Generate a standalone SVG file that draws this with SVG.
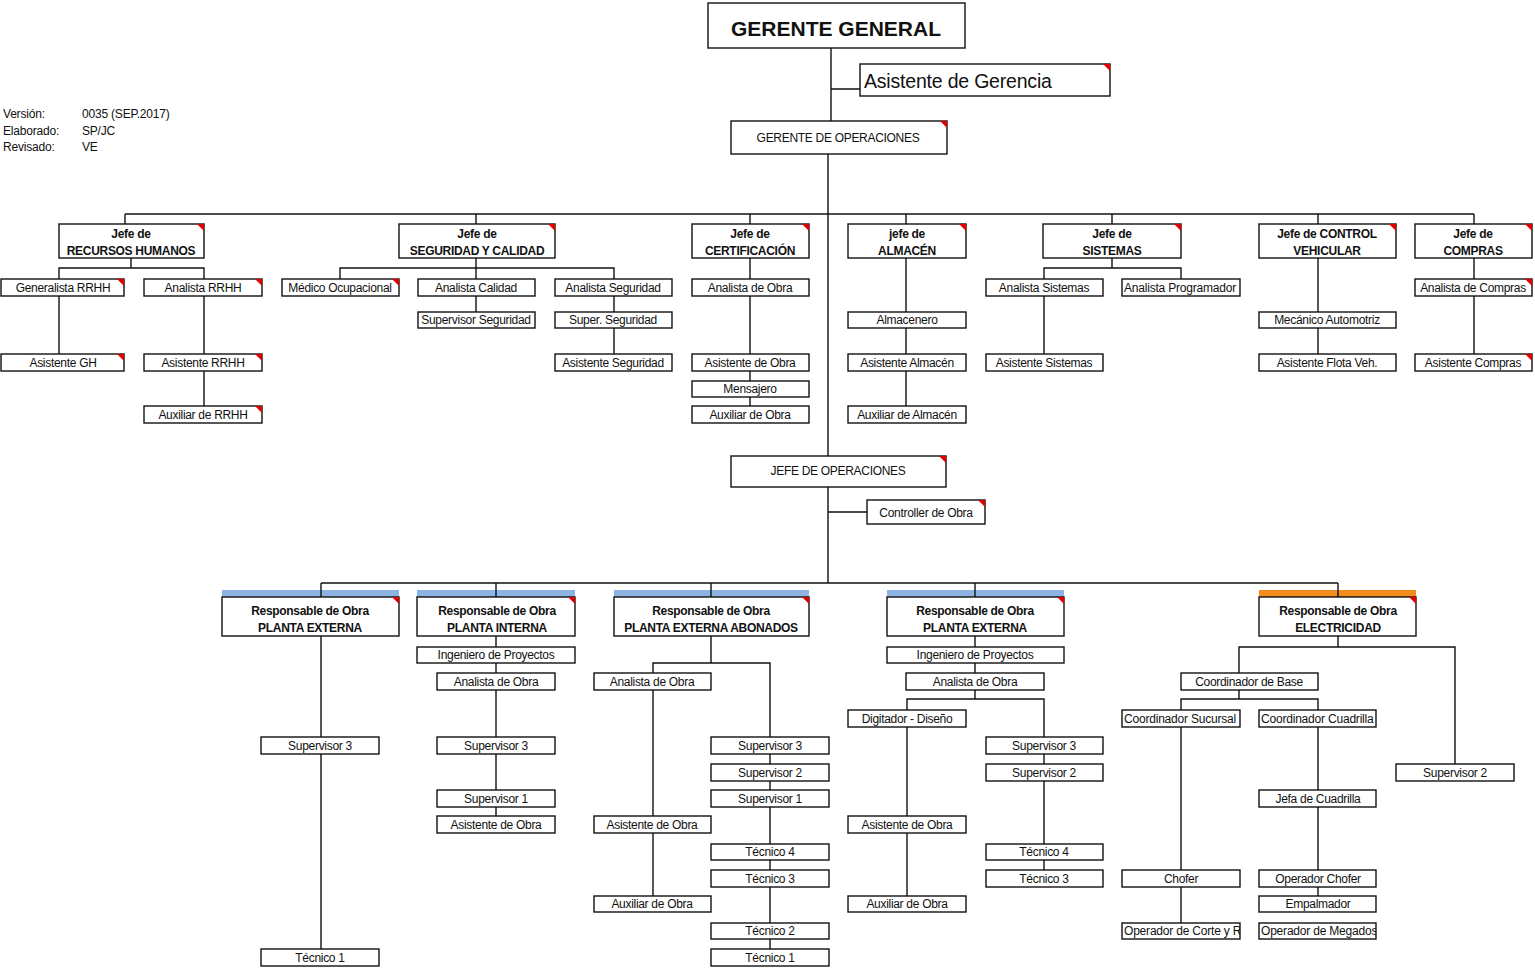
<svg xmlns="http://www.w3.org/2000/svg" width="1535" height="968" viewBox="0 0 1535 968">
<style>
.bx{fill:#fff;stroke:#111;stroke-width:1.4}
.rc{fill:#e00000}
.t{font-family:"Liberation Sans",Arial,sans-serif;font-size:12px;text-anchor:middle;fill:#111;letter-spacing:-0.3px}
.tl{font-family:"Liberation Sans",Arial,sans-serif;font-size:12px;text-anchor:start;fill:#111;letter-spacing:-0.2px}
.b{font-weight:bold}
.hd{font-family:"Liberation Sans",Arial,sans-serif;font-size:12px;fill:#111;letter-spacing:-0.2px}
.cn{fill:none;stroke:#111;stroke-width:1.4}
.blue{fill:#8db4e2}
.orange{fill:#f28c1c}
</style>
<defs>
<clipPath id="cpProg"><rect x="1122" y="279" width="118" height="17"/></clipPath>
<clipPath id="cpSuc"><rect x="1122" y="710" width="118" height="17"/></clipPath>
<clipPath id="cpCua"><rect x="1259" y="710" width="117" height="17"/></clipPath>
<clipPath id="cpCorte"><rect x="1122" y="923" width="118" height="16"/></clipPath>
<clipPath id="cpMeg"><rect x="1259" y="923" width="117" height="16"/></clipPath>
</defs>

<g id="header">
<text class="hd" x="3" y="118">Versión:</text>
<text class="hd" x="82" y="118">0035 (SEP.2017)</text>
<text class="hd" x="3" y="135">Elaborado:</text>
<text class="hd" x="82" y="135">SP/JC</text>
<text class="hd" x="3" y="151">Revisado:</text>
<text class="hd" x="82" y="151">VE</text>
</g>

<g id="nodes">
<g id="gerente-general"><rect class="bx" x="708" y="3" width="257" height="45" stroke-width="1.6"/><text class="t b" x="836" y="36" style="font-size:21px;letter-spacing:0">GERENTE GENERAL</text></g>
<g id="asistente-gerencia"><rect class="bx" x="860" y="64" width="250" height="32"/><polygon class="rc" points="1103,64 1110,64 1110,71"/><text class="tl" x="864" y="88" style="font-size:19.5px;letter-spacing:-0.2px">Asistente de Gerencia</text></g>
<g id="gerente-operaciones"><rect class="bx" x="731" y="121" width="216" height="33"/><polygon class="rc" points="940,121 947,121 947,128"/><text class="t" x="838" y="142">GERENTE DE OPERACIONES</text></g>

<g id="jefe-rrhh"><rect class="bx" x="59" y="224" width="145" height="34"/><polygon class="rc" points="197,224 204,224 204,231"/><text class="t b" x="131" y="238">Jefe de</text><text class="t b" x="131" y="255">RECURSOS HUMANOS</text></g>
<g id="jefe-syc"><rect class="bx" x="399" y="224" width="156" height="34"/><polygon class="rc" points="548,224 555,224 555,231"/><text class="t b" x="477" y="238">Jefe de</text><text class="t b" x="477" y="255">SEGURIDAD Y CALIDAD</text></g>
<g id="jefe-cert"><rect class="bx" x="692" y="224" width="117" height="34"/><polygon class="rc" points="802,224 809,224 809,231"/><text class="t b" x="750" y="238">Jefe de</text><text class="t b" x="750" y="255">CERTIFICACIÓN</text></g>
<g id="jefe-alm"><rect class="bx" x="848" y="224" width="118" height="34"/><polygon class="rc" points="959,224 966,224 966,231"/><text class="t b" x="907" y="238">jefe de</text><text class="t b" x="907" y="255">ALMACÉN</text></g>
<g id="jefe-sis"><rect class="bx" x="1043" y="224" width="138" height="34"/><polygon class="rc" points="1174,224 1181,224 1181,231"/><text class="t b" x="1112" y="238">Jefe de</text><text class="t b" x="1112" y="255">SISTEMAS</text></g>
<g id="jefe-cv"><rect class="bx" x="1259" y="224" width="137" height="34"/><polygon class="rc" points="1389,224 1396,224 1396,231"/><text class="t b" x="1327" y="238">Jefe de CONTROL</text><text class="t b" x="1327" y="255">VEHICULAR</text></g>
<g id="jefe-com"><rect class="bx" x="1415" y="224" width="117" height="34"/><polygon class="rc" points="1525,224 1532,224 1532,231"/><text class="t b" x="1473" y="238">Jefe de</text><text class="t b" x="1473" y="255">COMPRAS</text></g>

<g id="generalista-rrhh"><rect class="bx" x="1" y="279" width="123" height="17"/><polygon class="rc" points="117,279 124,279 124,286"/><text class="t" x="63" y="292">Generalista RRHH</text></g>
<g id="analista-rrhh"><rect class="bx" x="144" y="279" width="118" height="17"/><polygon class="rc" points="255,279 262,279 262,286"/><text class="t" x="203" y="292">Analista RRHH</text></g>
<g id="asistente-gh"><rect class="bx" x="1" y="354" width="123" height="17"/><polygon class="rc" points="117,354 124,354 124,361"/><text class="t" x="63" y="367">Asistente GH</text></g>
<g id="asistente-rrhh"><rect class="bx" x="144" y="354" width="118" height="17"/><polygon class="rc" points="255,354 262,354 262,361"/><text class="t" x="203" y="367">Asistente RRHH</text></g>
<g id="auxiliar-rrhh"><rect class="bx" x="144" y="406" width="118" height="17"/><polygon class="rc" points="255,406 262,406 262,413"/><text class="t" x="203" y="419">Auxiliar de RRHH</text></g>

<g id="medico-ocupacional"><rect class="bx" x="282" y="279" width="117" height="17"/><polygon class="rc" points="392,279 399,279 399,286"/><text class="t" x="340" y="292">Médico Ocupacional</text></g>
<g id="analista-calidad"><rect class="bx" x="418" y="279" width="117" height="17"/><text class="t" x="476" y="292">Analista Calidad</text></g>
<g id="supervisor-seguridad"><rect class="bx" x="418" y="312" width="117" height="16"/><text class="t" x="476" y="324">Supervisor Seguridad</text></g>
<g id="analista-seguridad"><rect class="bx" x="555" y="279" width="117" height="17"/><text class="t" x="613" y="292">Analista Seguridad</text></g>
<g id="super-seguridad"><rect class="bx" x="555" y="312" width="117" height="16"/><text class="t" x="613" y="324">Super. Seguridad</text></g>
<g id="asistente-seguridad"><rect class="bx" x="555" y="354" width="117" height="17"/><text class="t" x="613" y="367">Asistente Seguridad</text></g>

<g id="cert-analista-obra"><rect class="bx" x="692" y="279" width="117" height="17"/><text class="t" x="750" y="292">Analista de Obra</text></g>
<g id="cert-asistente-obra"><rect class="bx" x="692" y="354" width="117" height="17"/><text class="t" x="750" y="367">Asistente de Obra</text></g>
<g id="mensajero"><rect class="bx" x="692" y="381" width="117" height="16"/><text class="t" x="750" y="393">Mensajero</text></g>
<g id="cert-auxiliar-obra"><rect class="bx" x="692" y="406" width="117" height="17"/><text class="t" x="750" y="419">Auxiliar de Obra</text></g>

<g id="almacenero"><rect class="bx" x="848" y="312" width="118" height="16"/><text class="t" x="907" y="324">Almacenero</text></g>
<g id="asistente-almacen"><rect class="bx" x="848" y="354" width="118" height="17"/><text class="t" x="907" y="367">Asistente Almacén</text></g>
<g id="auxiliar-almacen"><rect class="bx" x="848" y="406" width="118" height="17"/><text class="t" x="907" y="419">Auxiliar de Almacén</text></g>

<g id="analista-sistemas"><rect class="bx" x="986" y="279" width="117" height="17"/><text class="t" x="1044" y="292">Analista Sistemas</text></g>
<g id="analista-programador"><rect class="bx" x="1122" y="279" width="118" height="17"/><text class="tl" x="1124" y="292" clip-path="url(#cpProg)">Analista Programador</text></g>
<g id="asistente-sistemas"><rect class="bx" x="986" y="354" width="117" height="17"/><text class="t" x="1044" y="367">Asistente Sistemas</text></g>

<g id="mecanico-automotriz"><rect class="bx" x="1259" y="312" width="137" height="16"/><text class="t" x="1327" y="324">Mecánico Automotriz</text></g>
<g id="asistente-flota"><rect class="bx" x="1259" y="354" width="137" height="17"/><text class="t" x="1327" y="367">Asistente Flota Veh.</text></g>

<g id="analista-compras"><rect class="bx" x="1415" y="279" width="117" height="17"/><polygon class="rc" points="1525,279 1532,279 1532,286"/><text class="t" x="1473" y="292">Analista de Compras</text></g>
<g id="asistente-compras"><rect class="bx" x="1415" y="354" width="117" height="17"/><polygon class="rc" points="1525,354 1532,354 1532,361"/><text class="t" x="1473" y="367">Asistente Compras</text></g>

<g id="jefe-operaciones"><rect class="bx" x="731" y="456" width="215" height="31"/><polygon class="rc" points="939,456 946,456 946,463"/><text class="t" x="838" y="475">JEFE DE OPERACIONES</text></g>
<g id="controller-obra"><rect class="bx" x="867" y="500" width="118" height="24"/><polygon class="rc" points="978,500 985,500 985,507"/><text class="t" x="926" y="517">Controller de Obra</text></g>

<g id="resp-pe1"><rect class="blue" x="222" y="590" width="177" height="7"/><rect class="bx" x="222" y="597" width="177" height="39"/><polygon class="rc" points="392,597 399,597 399,604"/><text class="t b" x="310" y="615">Responsable de Obra</text><text class="t b" x="310" y="632">PLANTA EXTERNA</text></g>
<g id="resp-pi"><rect class="blue" x="417" y="590" width="158" height="7"/><rect class="bx" x="417" y="597" width="158" height="39"/><polygon class="rc" points="568,597 575,597 575,604"/><text class="t b" x="497" y="615">Responsable de Obra</text><text class="t b" x="497" y="632">PLANTA INTERNA</text></g>
<g id="resp-pea"><rect class="blue" x="614" y="590" width="195" height="7"/><rect class="bx" x="614" y="597" width="195" height="39"/><polygon class="rc" points="802,597 809,597 809,604"/><text class="t b" x="711" y="615">Responsable de Obra</text><text class="t b" x="711" y="632">PLANTA EXTERNA ABONADOS</text></g>
<g id="resp-pe2"><rect class="blue" x="887" y="590" width="177" height="7"/><rect class="bx" x="887" y="597" width="177" height="39"/><polygon class="rc" points="1057,597 1064,597 1064,604"/><text class="t b" x="975" y="615">Responsable de Obra</text><text class="t b" x="975" y="632">PLANTA EXTERNA</text></g>
<g id="resp-elec"><rect class="orange" x="1259" y="590" width="157" height="7"/><rect class="bx" x="1259" y="597" width="157" height="39"/><polygon class="rc" points="1409,597 1416,597 1416,604"/><text class="t b" x="1338" y="615">Responsable de Obra</text><text class="t b" x="1338" y="632">ELECTRICIDAD</text></g>

<g id="pe1-supervisor3"><rect class="bx" x="261" y="737" width="118" height="17"/><text class="t" x="320" y="750">Supervisor 3</text></g>
<g id="pe1-tecnico1"><rect class="bx" x="261" y="949" width="118" height="17"/><text class="t" x="320" y="962">Técnico 1</text></g>

<g id="pi-ingeniero"><rect class="bx" x="417" y="647" width="158" height="16"/><text class="t" x="496" y="659">Ingeniero de Proyectos</text></g>
<g id="pi-analista-obra"><rect class="bx" x="437" y="673" width="118" height="17"/><text class="t" x="496" y="686">Analista de Obra</text></g>
<g id="pi-supervisor3"><rect class="bx" x="437" y="737" width="118" height="17"/><text class="t" x="496" y="750">Supervisor 3</text></g>
<g id="pi-supervisor1"><rect class="bx" x="437" y="790" width="118" height="17"/><text class="t" x="496" y="803">Supervisor 1</text></g>
<g id="pi-asistente-obra"><rect class="bx" x="437" y="816" width="118" height="17"/><text class="t" x="496" y="829">Asistente de Obra</text></g>

<g id="pea-analista-obra"><rect class="bx" x="594" y="673" width="117" height="17"/><text class="t" x="652" y="686">Analista de Obra</text></g>
<g id="pea-asistente-obra"><rect class="bx" x="594" y="816" width="117" height="17"/><text class="t" x="652" y="829">Asistente de Obra</text></g>
<g id="pea-auxiliar-obra"><rect class="bx" x="594" y="896" width="117" height="16"/><text class="t" x="652" y="908">Auxiliar de Obra</text></g>
<g id="pea-supervisor3"><rect class="bx" x="711" y="737" width="118" height="17"/><text class="t" x="770" y="750">Supervisor 3</text></g>
<g id="pea-supervisor2"><rect class="bx" x="711" y="764" width="118" height="17"/><text class="t" x="770" y="777">Supervisor 2</text></g>
<g id="pea-supervisor1"><rect class="bx" x="711" y="790" width="118" height="17"/><text class="t" x="770" y="803">Supervisor 1</text></g>
<g id="pea-tecnico4"><rect class="bx" x="711" y="844" width="118" height="16"/><text class="t" x="770" y="856">Técnico 4</text></g>
<g id="pea-tecnico3"><rect class="bx" x="711" y="870" width="118" height="17"/><text class="t" x="770" y="883">Técnico 3</text></g>
<g id="pea-tecnico2"><rect class="bx" x="711" y="923" width="118" height="16"/><text class="t" x="770" y="935">Técnico 2</text></g>
<g id="pea-tecnico1"><rect class="bx" x="711" y="949" width="118" height="17"/><text class="t" x="770" y="962">Técnico 1</text></g>

<g id="pe2-ingeniero"><rect class="bx" x="887" y="647" width="177" height="16"/><text class="t" x="975" y="659">Ingeniero de Proyectos</text></g>
<g id="pe2-analista-obra"><rect class="bx" x="906" y="673" width="138" height="17"/><text class="t" x="975" y="686">Analista de Obra</text></g>
<g id="pe2-digitador"><rect class="bx" x="848" y="710" width="118" height="17"/><text class="t" x="907" y="723">Digitador - Diseño</text></g>
<g id="pe2-asistente-obra"><rect class="bx" x="848" y="816" width="118" height="17"/><text class="t" x="907" y="829">Asistente de Obra</text></g>
<g id="pe2-auxiliar-obra"><rect class="bx" x="848" y="896" width="118" height="16"/><text class="t" x="907" y="908">Auxiliar de Obra</text></g>
<g id="pe2-supervisor3"><rect class="bx" x="986" y="737" width="117" height="17"/><text class="t" x="1044" y="750">Supervisor 3</text></g>
<g id="pe2-supervisor2"><rect class="bx" x="986" y="764" width="117" height="17"/><text class="t" x="1044" y="777">Supervisor 2</text></g>
<g id="pe2-tecnico4"><rect class="bx" x="986" y="844" width="117" height="16"/><text class="t" x="1044" y="856">Técnico 4</text></g>
<g id="pe2-tecnico3"><rect class="bx" x="986" y="870" width="117" height="17"/><text class="t" x="1044" y="883">Técnico 3</text></g>

<g id="el-coord-base"><rect class="bx" x="1181" y="673" width="137" height="17"/><text class="t" x="1249" y="686">Coordinador de Base</text></g>
<g id="el-coord-sucursal"><rect class="bx" x="1122" y="710" width="118" height="17"/><text class="tl" x="1124" y="723" clip-path="url(#cpSuc)">Coordinador Sucursal</text></g>
<g id="el-coord-cuadrilla"><rect class="bx" x="1259" y="710" width="117" height="17"/><text class="tl" x="1261" y="723" clip-path="url(#cpCua)">Coordinador Cuadrilla</text></g>
<g id="el-supervisor2"><rect class="bx" x="1396" y="764" width="118" height="17"/><text class="t" x="1455" y="777">Supervisor 2</text></g>
<g id="el-jefa-cuadrilla"><rect class="bx" x="1259" y="790" width="117" height="17"/><text class="t" x="1318" y="803">Jefa de Cuadrilla</text></g>
<g id="el-chofer"><rect class="bx" x="1122" y="870" width="118" height="17"/><text class="t" x="1181" y="883">Chofer</text></g>
<g id="el-operador-corte"><rect class="bx" x="1122" y="923" width="118" height="16"/><text class="tl" x="1124" y="935" clip-path="url(#cpCorte)">Operador de Corte y R</text></g>
<g id="el-operador-chofer"><rect class="bx" x="1259" y="870" width="117" height="17"/><text class="t" x="1318" y="883">Operador Chofer</text></g>
<g id="el-empalmador"><rect class="bx" x="1259" y="896" width="117" height="16"/><text class="t" x="1318" y="908">Empalmador</text></g>
<g id="el-operador-megados"><rect class="bx" x="1259" y="923" width="117" height="16"/><text class="tl" x="1261" y="935" clip-path="url(#cpMeg)">Operador de Megados</text></g>
</g>

<g id="connectors">
<path class="cn" d="M831,48V121M831,89H860M828,154V456M828,487V583M828,512H867"/>
<path class="cn" d="M125,214H1474M125,214V224M476,214V224M750,214V224M906,214V224M1112,214V224M1318,214V224M1474,214V224"/>
<path class="cn" d="M131,258V268M59,279V268H204V279M59,296V354M204,296V354M204,371V406"/>
<path class="cn" d="M476,258V279M340,279V268H614V279M476,296V312M614,296V312M614,328V354"/>
<path class="cn" d="M750,258V279M750,296V354M750,371V381M750,397V406"/>
<path class="cn" d="M906,258V312M906,328V354M906,371V406"/>
<path class="cn" d="M1112,258V268M1044,279V268H1181V279M1044,296V354"/>
<path class="cn" d="M1318,258V312M1318,328V354M1474,258V279M1474,296V354"/>
<path class="cn" d="M321,583H1338M321,583V597M496,583V597M711,583V597M975,583V597M1338,583V597"/>
<path class="cn" d="M321,636V737M321,754V949"/>
<path class="cn" d="M496,636V647M496,663V673M496,690V737M496,754V790M496,807V816"/>
<path class="cn" d="M711,636V663M653,673V663H770V737M653,690V816M653,833V896M770,754V764M770,781V790M770,807V844M770,860V870M770,887V923M770,939V949"/>
<path class="cn" d="M975,636V647M975,663V673M975,690V699M907,710V699H1044V737M907,727V816M907,833V896M1044,754V764M1044,781V844M1044,860V870"/>
<path class="cn" d="M1338,636V647M1239,673V647H1455V764M1239,690V699M1181,710V699H1318V710M1181,727V870M1181,887V923M1318,727V790M1318,807V870M1318,887V896"/>
</g>
</svg>
